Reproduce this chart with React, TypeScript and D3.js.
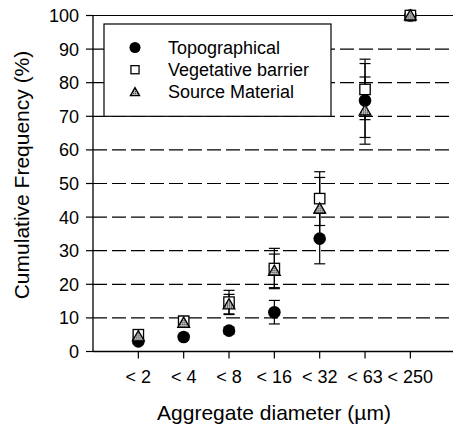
import React from "react";
import * as d3 from "d3";

const categories = ["< 2", "< 4", "< 8", "< 16", "< 32", "< 63", "< 250"];
const yTicks = [0, 10, 20, 30, 40, 50, 60, 70, 80, 90, 100];

const topoValues = [3, 4.3, 6.2, 11.7, 33.6, 74.7, 100];
const topoErrors = [0.5, 0.8, 1, 3.5, 7.5, 11, 0];
const vegValues = [5, 9, 14.7, 24.7, 45.5, 78, 100];
const vegErrors = [0.5, 1.5, 3.5, 6, 8, 9, 0];
const srcValues = [4.5, 8.5, 14, 24, 42.5, 71.7, 100];
const srcErrors = [0.5, 1.2, 3, 5, 9.3, 10, 0];

const seriesNames = ["Topographical", "Vegetative barrier", "Source Material"];

const W = 453;
const H = 433;
const FONT = "'Liberation Sans', Arial, Helvetica, sans-serif";

export default function App() {
  const x = d3.scaleLinear().domain([0, 8]).range([93, 455.7]);
  const y = d3.scaleLinear().domain([0, 100]).range([351.5, 15.5]);
  const x0 = 93;
  const xR = 453;

  const series = [
    { name: seriesNames[0], values: topoValues, errors: topoErrors, type: "circle" },
    { name: seriesNames[1], values: vegValues, errors: vegErrors, type: "square" },
    { name: seriesNames[2], values: srcValues, errors: srcErrors, type: "triangle" },
  ];

  const marker = (type: string, cx: number, cy: number, s: number, key?: string) => {
    if (type === "circle")
      return <circle key={key} cx={cx} cy={cy} r={6.3 * s} fill="#000" />;
    if (type === "square")
      return (
        <rect key={key} x={cx - 5.2 * s} y={cy - 5.2 * s} width={10.4 * s} height={10.4 * s} fill="#fff" stroke="#000" strokeWidth={1.3} />
      );
    const tri = d3.symbol().type(d3.symbolTriangle).size(60 * s * s)();
    return (
      <path key={key} d={tri as string} transform={`translate(${cx},${cy + 1})`} fill="url(#hatch)" stroke="#000" strokeWidth={1.3} />
    );
  };

  const legendX = 104;
  const legendY = 24;
  const legendW = 227;
  const legendH = y(70) - legendY;

  return (
    <svg width={W} height={H} style={{ position: "absolute", left: 0, top: 0, display: "block" }} fontFamily={FONT}>
      <defs>
        <pattern id="hatch" width="2" height="2" patternUnits="userSpaceOnUse">
          <rect width="2" height="2" fill="#bbb" />
          <rect width="1" height="1" fill="#333" />
        </pattern>
      </defs>
      <rect width={W} height={H} fill="#fff" />
      {/* gridlines */}
      {yTicks.filter((t) => t > 0 && t < 100).map((t) => (
        <line key={t} x1={x0} x2={xR} y1={y(t)} y2={y(t)} stroke="#000" strokeWidth={1.2} strokeDasharray="14,5" />
      ))}
      <line x1={x0} x2={xR} y1={y(100)} y2={y(100)} stroke="#000" strokeWidth={1.2} />
      {/* legend */}
      <rect x={legendX} y={legendY} width={legendW} height={legendH} fill="#fff" stroke="#000" strokeWidth={1.2} />
      {series.map((s, i) => (
        <g key={s.name}>
          {marker(s.type, 135, 47.5 + i * 22.2, i === 0 ? 0.88 : 0.78)}
          <text x={168} y={47.5 + i * 22.2 + 6.3} fontSize={18} fill="#000">
            {s.name}
          </text>
        </g>
      ))}
      {/* axes */}
      <line x1={x0} x2={x0} y1={y(100)} y2={y(0)} stroke="#000" strokeWidth={1.3} />
      <line x1={x0} x2={xR} y1={y(0)} y2={y(0)} stroke="#000" strokeWidth={1.3} />
      {yTicks.map((t) => (
        <g key={t}>
          <line x1={x0 - 7} x2={x0} y1={y(t)} y2={y(t)} stroke="#000" strokeWidth={1.2} />
          <text x={79} y={y(t)} dy="0.36em" textAnchor="end" fontSize={18} fill="#000">
            {t}
          </text>
        </g>
      ))}
      {categories.map((c, i) => (
        <g key={c}>
          <line x1={x(i + 1)} x2={x(i + 1)} y1={y(0)} y2={y(0) + 7} stroke="#000" strokeWidth={1.2} />
          <text x={x(i + 1)} y={383} textAnchor="middle" fontSize={18} fill="#000">
            {c}
          </text>
        </g>
      ))}
      {/* error bars */}
      {series.map((s) =>
        s.values.map((v, i) =>
          s.errors[i] > 0 ? (
            <g key={s.name + i} stroke="#000" strokeWidth={1.2}>
              <line x1={x(i + 1)} x2={x(i + 1)} y1={y(v - s.errors[i])} y2={y(v + s.errors[i])} />
              <line x1={x(i + 1) - 5.5} x2={x(i + 1) + 5.5} y1={y(v - s.errors[i])} y2={y(v - s.errors[i])} />
              <line x1={x(i + 1) - 5.5} x2={x(i + 1) + 5.5} y1={y(v + s.errors[i])} y2={y(v + s.errors[i])} />
            </g>
          ) : null
        )
      )}
      {/* markers */}
      {series.map((s) => s.values.map((v, i) => marker(s.type, x(i + 1), y(v), 1, s.name + "m" + i)))}
      {/* titles */}
      <text x={274} y={420} textAnchor="middle" fontSize={21} fill="#000">
        Aggregate diameter (µm)
      </text>
      <text transform={`translate(29,175) rotate(-90)`} textAnchor="middle" fontSize={21} fill="#000">
        Cumulative Frequency (%)
      </text>
    </svg>
  );
}
